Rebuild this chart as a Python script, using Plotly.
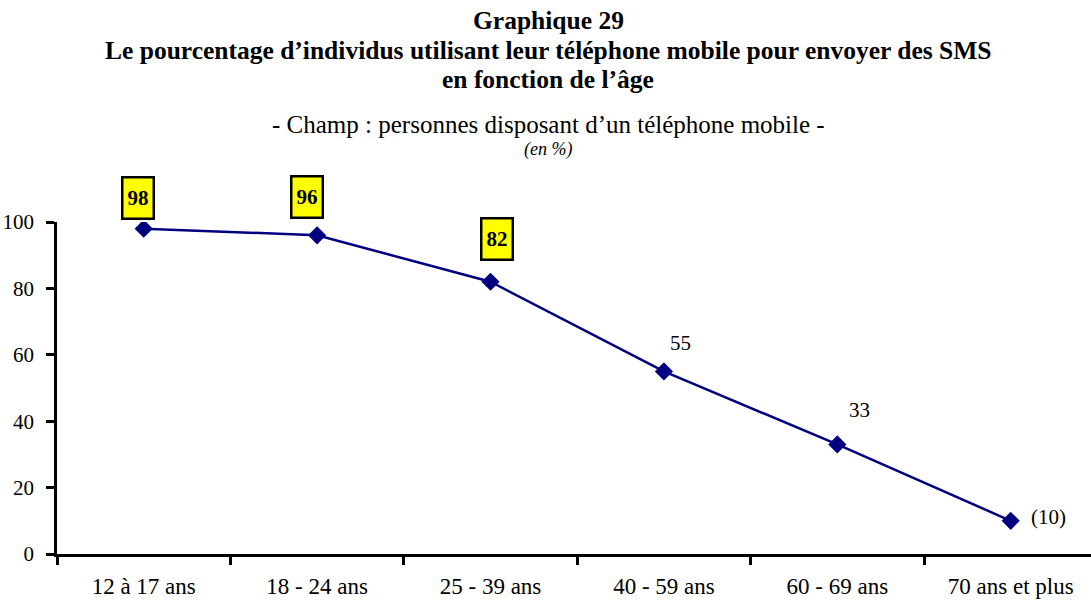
import plotly.graph_objects as go

# Age groups and share of mobile owners sending SMS (%)
age_groups = ["12 à 17 ans", "18 - 24 ans", "25 - 39 ans", "40 - 59 ans", "60 - 69 ans", "70 ans et plus"]
sms_share = [98, 96, 82, 55, 33, 10]
value_labels = ["98", "96", "82", "55", "33", "(10)"]
highlighted = [True, True, True, False, False, False]
y_ticks = [0, 20, 40, 60, 80, 100]

SERIF = "Liberation Serif"
NAVY = "#000080"
W, H = 1091, 600
M_LEFT, M_TOP, M_BOT = 57, 222, 46
PAGE_CENTER = (548 - M_LEFT) / (W - M_LEFT)

fig = go.Figure()
fig.add_trace(go.Scatter(
    x=age_groups, y=sms_share, mode="lines+markers",
    line=dict(color=NAVY, width=2.5),
    marker=dict(symbol="diamond", size=14, color=NAVY),
    hoverinfo="x+y", showlegend=False,
))

# Offsets of each value label relative to its point (pixels)
label_shift = [(-6, 31), (-10, 38), (6, 43), (17, 28), (22, 34), (38, 4)]
for cat, val, txt, hi, (dx, dy) in zip(age_groups, sms_share, value_labels, highlighted, label_shift):
    if hi:
        fig.add_annotation(
            x=cat, y=val, text=f"<b>{txt}</b>", showarrow=False,
            xshift=dx, yshift=dy,
            font=dict(family=SERIF, size=21, color="black"),
            bgcolor="#FFFF00", bordercolor="black", borderwidth=2.5, borderpad=0,
            width=29, height=39,
        )
    else:
        fig.add_annotation(
            x=cat, y=val, text=txt, showarrow=False,
            xshift=dx, yshift=dy,
            font=dict(family=SERIF, size=21, color="black"),
        )


def header(text, y_px, size):
    """Centred header line placed at a pixel height from the top of the page."""
    fig.add_annotation(
        xref="paper", yref="paper", x=PAGE_CENTER, xanchor="center",
        y=0, yanchor="middle", yshift=H - M_BOT - y_px,
        showarrow=False, text=text, borderpad=0,
        font=dict(family=SERIF, size=size, color="black"),
    )


header("<b>Graphique 29</b>", 20.5, 25.5)
header("<b>Le pourcentage d’individus utilisant leur téléphone mobile pour envoyer des SMS</b>", 50, 25.5)
header("<b>en fonction de l’âge</b>", 79.5, 25.5)
header("- Champ : personnes disposant d’un téléphone mobile -", 124.5, 25)
header("<i>(en %)</i>", 149.5, 18)

fig.update_layout(
    width=W, height=H,
    margin=dict(l=M_LEFT, r=0, t=M_TOP, b=M_BOT),
    paper_bgcolor="white", plot_bgcolor="white",
    font=dict(family=SERIF, size=22, color="black"),
    xaxis=dict(
        type="category", range=[-0.5, 5.463],
        showline=True, linecolor="black", linewidth=2.5,
        ticks="outside", tickson="boundaries", ticklen=8, tickwidth=2.5, tickcolor="black",
        showgrid=False, zeroline=False,
        tickfont=dict(family=SERIF, size=23),
        ticklabelstandoff=10,
    ),
    yaxis=dict(
        range=[0, 100], tickvals=y_ticks,
        showline=True, linecolor="black", linewidth=2.5,
        ticks="outside", ticklen=8, tickwidth=2.5, tickcolor="black",
        showgrid=False, zeroline=False,
        tickfont=dict(family=SERIF, size=21),
        ticklabelstandoff=8,
    ),
)

fig.write_html("out.html")
